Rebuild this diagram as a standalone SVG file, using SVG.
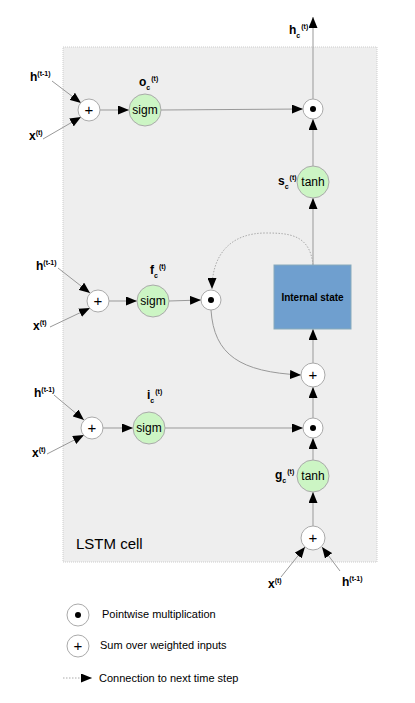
<svg xmlns="http://www.w3.org/2000/svg" width="415" height="703" viewBox="0 0 415 703">
<style>
.ln{fill:none;stroke:#999;stroke-width:1}
.dt{fill:none;stroke:#aaa;stroke-width:1;stroke-dasharray:1.5,1.5}
.op{fill:#fff;stroke:#aaa;stroke-width:1}
.act{fill:#ccf5c4;stroke:#aaa;stroke-width:1}
.t{font-family:"Liberation Sans",Arial,sans-serif;fill:#000}
.lb{font-family:"Liberation Sans",Arial,sans-serif;font-weight:bold;font-size:12px;fill:#000}
.sm{font-size:7px}
.fn{font-family:"Liberation Sans",Arial,sans-serif;font-size:12px;fill:#000;text-anchor:middle}
.pl{font-family:"Liberation Sans",Arial,sans-serif;font-size:15px;fill:#000;text-anchor:middle}
.lg{font-family:"Liberation Sans",Arial,sans-serif;font-size:11px;fill:#000}
</style>
<defs>
<marker id="ar" viewBox="0 0 11 9" refX="11" refY="4.5" markerWidth="11" markerHeight="9" markerUnits="userSpaceOnUse" orient="auto">
<path d="M0,0 L11,4.5 L0,9 Z" fill="#000"/>
</marker>
</defs>
<rect x="63" y="47" width="314" height="515" fill="#eeeeee" stroke="#ccc" stroke-dasharray="1,1"/>
<text class="t" x="76" y="549" font-size="15">LSTM cell</text>

<g id="connectors">
<line class="ln" x1="52" y1="81" x2="81" y2="103" marker-end="url(#ar)"/>
<line class="ln" x1="43" y1="139" x2="81" y2="117" marker-end="url(#ar)"/>
<line class="ln" x1="100" y1="110" x2="129" y2="110" marker-end="url(#ar)"/>
<line class="ln" x1="161" y1="110" x2="303" y2="109" marker-end="url(#ar)"/>
<line class="ln" x1="313" y1="99" x2="313" y2="17" marker-end="url(#ar)"/>
<line class="ln" x1="313" y1="166" x2="313" y2="119" marker-end="url(#ar)"/>
<line class="ln" x1="313" y1="265" x2="313" y2="198" marker-end="url(#ar)"/>
<line class="ln" x1="58" y1="268" x2="90" y2="293" marker-end="url(#ar)"/>
<line class="ln" x1="50" y1="327" x2="90" y2="308" marker-end="url(#ar)"/>
<line class="ln" x1="109" y1="301" x2="137" y2="301" marker-end="url(#ar)"/>
<line class="ln" x1="169" y1="301" x2="201" y2="300" marker-end="url(#ar)"/>
<path class="dt" d="M313,265 C310,235 290,233 266,233 C230,233 212,255 212,289" marker-end="url(#ar)"/>
<path class="ln" d="M211,310 C214,355 240,372 301,375" marker-end="url(#ar)"/>
<line class="ln" x1="313" y1="363" x2="313" y2="329" marker-end="url(#ar)"/>
<line class="ln" x1="54" y1="395" x2="84" y2="420" marker-end="url(#ar)"/>
<line class="ln" x1="47" y1="454" x2="84" y2="435" marker-end="url(#ar)"/>
<line class="ln" x1="103" y1="428" x2="133" y2="428" marker-end="url(#ar)"/>
<line class="ln" x1="165" y1="428" x2="303" y2="428" marker-end="url(#ar)"/>
<line class="ln" x1="313" y1="418" x2="313" y2="387" marker-end="url(#ar)"/>
<line class="ln" x1="313" y1="460" x2="313" y2="438" marker-end="url(#ar)"/>
<line class="ln" x1="313" y1="526" x2="313" y2="492" marker-end="url(#ar)"/>
<line class="ln" x1="281" y1="577" x2="305" y2="547" marker-end="url(#ar)"/>
<line class="ln" x1="340" y1="571" x2="322" y2="547" marker-end="url(#ar)"/>
<line class="dt" x1="63" y1="678" x2="92" y2="678" marker-end="url(#ar)"/>
</g>

<g id="out-sum"><circle class="op" cx="89" cy="110" r="11"/><text class="pl" x="89" y="115">+</text></g>
<g id="out-sigm"><circle class="act" cx="145" cy="110" r="16"/><text class="fn" x="145" y="114">sigm</text></g>
<g id="out-mult"><circle class="op" cx="313" cy="109" r="10"/><circle cx="313" cy="109" r="3" fill="#000"/></g>
<g id="out-tanh"><circle class="act" cx="313" cy="182" r="16"/><text class="fn" x="313" y="186">tanh</text></g>
<g id="state"><rect x="274" y="265" width="77" height="64" fill="#6f9fcf" stroke="#8ab"/><text class="t" x="312.5" y="301" font-size="10" font-weight="bold" text-anchor="middle">Internal state</text></g>
<g id="f-sum"><circle class="op" cx="98" cy="301" r="11"/><text class="pl" x="98" y="306">+</text></g>
<g id="f-sigm"><circle class="act" cx="153" cy="301" r="16"/><text class="fn" x="153" y="305">sigm</text></g>
<g id="f-mult"><circle class="op" cx="211" cy="300" r="10"/><circle cx="211" cy="300" r="3" fill="#000"/></g>
<g id="s-sum"><circle class="op" cx="313" cy="375" r="12"/><text class="pl" x="313" y="380">+</text></g>
<g id="i-sum"><circle class="op" cx="92" cy="428" r="11"/><text class="pl" x="92" y="433">+</text></g>
<g id="i-sigm"><circle class="act" cx="149" cy="428" r="16"/><text class="fn" x="149" y="432">sigm</text></g>
<g id="i-mult"><circle class="op" cx="313" cy="428" r="10"/><circle cx="313" cy="428" r="3" fill="#000"/></g>
<g id="g-tanh"><circle class="act" cx="313" cy="476" r="16"/><text class="fn" x="313" y="480">tanh</text></g>
<g id="g-sum"><circle class="op" cx="313" cy="538" r="12"/><text class="pl" x="313" y="543">+</text></g>

<g id="labels">
<text class="lb" x="30" y="81">h<tspan class="sm" dy="-5">(t-1)</tspan></text>
<text class="lb" x="29" y="140">x<tspan class="sm" dy="-5">(t)</tspan></text>
<text class="lb" x="139" y="86">o<tspan class="sm" dy="4">c</tspan><tspan class="sm" dy="-9" dx="1">(t)</tspan></text>
<text class="lb" x="289" y="34">h<tspan class="sm" dy="4">c</tspan><tspan class="sm" dy="-9" dx="1">(t)</tspan></text>
<text class="lb" x="278" y="185">s<tspan class="sm" dy="4">c</tspan><tspan class="sm" dy="-9" dx="1">(t)</tspan></text>
<text class="lb" x="36" y="270">h<tspan class="sm" dy="-5">(t-1)</tspan></text>
<text class="lb" x="33" y="330">x<tspan class="sm" dy="-5">(t)</tspan></text>
<text class="lb" x="150" y="274">f<tspan class="sm" dy="4">c</tspan><tspan class="sm" dy="-9" dx="1">(t)</tspan></text>
<text class="lb" x="34" y="397">h<tspan class="sm" dy="-5">(t-1)</tspan></text>
<text class="lb" x="32" y="457">x<tspan class="sm" dy="-5">(t)</tspan></text>
<text class="lb" x="147" y="399">i<tspan class="sm" dy="4">c</tspan><tspan class="sm" dy="-9" dx="1">(t)</tspan></text>
<text class="lb" x="275" y="479">g<tspan class="sm" dy="4">c</tspan><tspan class="sm" dy="-9" dx="1">(t)</tspan></text>
<text class="lb" x="268" y="588">x<tspan class="sm" dy="-5">(t)</tspan></text>
<text class="lb" x="342" y="586">h<tspan class="sm" dy="-5">(t-1)</tspan></text>
</g>

<g id="legend">
<circle class="op" cx="78" cy="615" r="11"/><circle cx="78" cy="615" r="3" fill="#000"/>
<text class="lg" x="102" y="618">Pointwise multiplication</text>
<circle class="op" cx="78" cy="646" r="11"/><text class="pl" x="78" y="651">+</text>
<text class="lg" x="100" y="649">Sum over weighted inputs</text>
<text class="lg" x="99" y="682">Connection to next time step</text>
</g>
</svg>
